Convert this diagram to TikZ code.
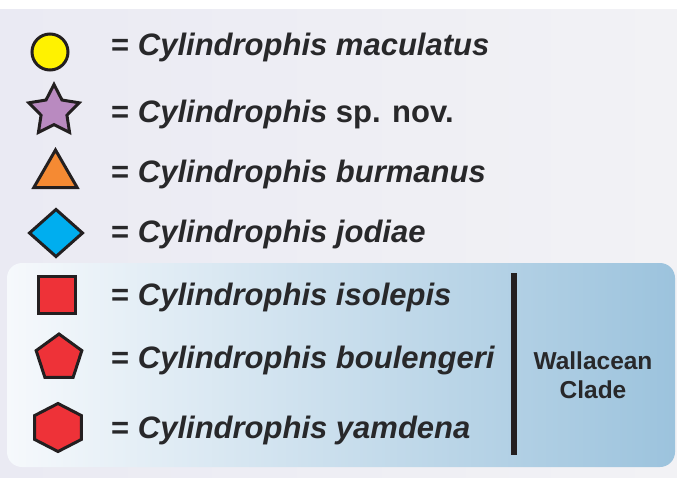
\documentclass[tikz,border=0pt]{standalone}
\usepackage{fontspec}
\setmainfont{Liberation Sans}
\usetikzlibrary{shapes.geometric,positioning}
\definecolor{ink}{RGB}{35,31,32}
\definecolor{txt}{RGB}{40,40,42}
\definecolor{bgl}{RGB}{234,234,243}
\definecolor{bgm}{RGB}{214,214,231}
\definecolor{bgr}{RGB}{242,242,245}
\definecolor{boxl}{RGB}{246,249,252}
\definecolor{boxr}{RGB}{156,195,221}
\definecolor{cyel}{RGB}{255,242,0}
\definecolor{cpur}{RGB}{185,138,192}
\definecolor{corg}{RGB}{245,138,51}
\definecolor{cblu}{RGB}{0,174,239}
\definecolor{cred}{RGB}{238,50,56}
\begin{document}
\begin{tikzpicture}[x=1pt,y=-1pt,
    sym/.style={draw=ink,line width=3pt,inner sep=0pt,outer sep=0pt},
    lbl/.style={anchor=base west,inner sep=0pt,text=txt,font=\fontsize{31}{37}\selectfont\bfseries}]
  \useasboundingbox (0,0) rectangle (677,477);
  % backgrounds
  \fill[white] (0,0) rectangle (677,477);
  \shade[left color=bgl,middle color=bgm,right color=bgr] (0,9) rectangle (677,477);
  \shade[left color=boxl,right color=boxr,rounded corners=15pt] (7,263) rectangle (675,467);
  % symbols
  \node[sym,circle,fill=cyel,minimum size=36pt] (mac) at (50,52) {};
  \node[sym,star,star points=5,star point ratio=1.95,fill=cpur,minimum size=53pt] (nov) at (54,111) {};
  \node[sym,regular polygon,regular polygon sides=3,fill=corg,minimum size=50pt] (bur) at (55.5,175) {};
  \node[sym,diamond,fill=cblu,minimum width=53pt,minimum height=47pt] (jod) at (56,233) {};
  \node[sym,rectangle,fill=cred,minimum size=37pt] (iso) at (57,295) {};
  \node[sym,regular polygon,regular polygon sides=5,fill=cred,minimum size=48pt] (bou) at (59,358) {};
  \node[sym,regular polygon,regular polygon sides=6,shape border rotate=90,fill=cred,minimum size=48pt,xscale=1.12] (yam) at (58,427.5) {};
  % labels
  \node[lbl] (tmac) at (111,55) {= \textit{Cylindrophis maculatus}};
  \node[lbl] (tnov) at (111,122) {= \textit{Cylindrophis} sp. nov.};
  \node[lbl] (tbur) at (111,182) {= \textit{Cylindrophis burmanus}};
  \node[lbl] (tjod) at (111,242) {= \textit{Cylindrophis jodiae}};
  \node[lbl] (tiso) at (111,305) {= \textit{Cylindrophis isolepis}};
  \node[lbl] (tbou) at (111,368) {= \textit{Cylindrophis boulengeri}};
  \node[lbl] (tyam) at (111,438) {= \textit{Cylindrophis yamdena}};
  % clade bar
  \coordinate (bartop) at (513.5,273);
  \coordinate (barbot) at (513.5,455);
  \draw[ink,line width=6pt] (bartop) -- (barbot);
  \node[align=center,text=txt,inner sep=0pt,font=\fontsize{24.5}{29}\selectfont\bfseries] (clade) at (593,375) {Wallacean\\Clade};
\end{tikzpicture}
\end{document}
